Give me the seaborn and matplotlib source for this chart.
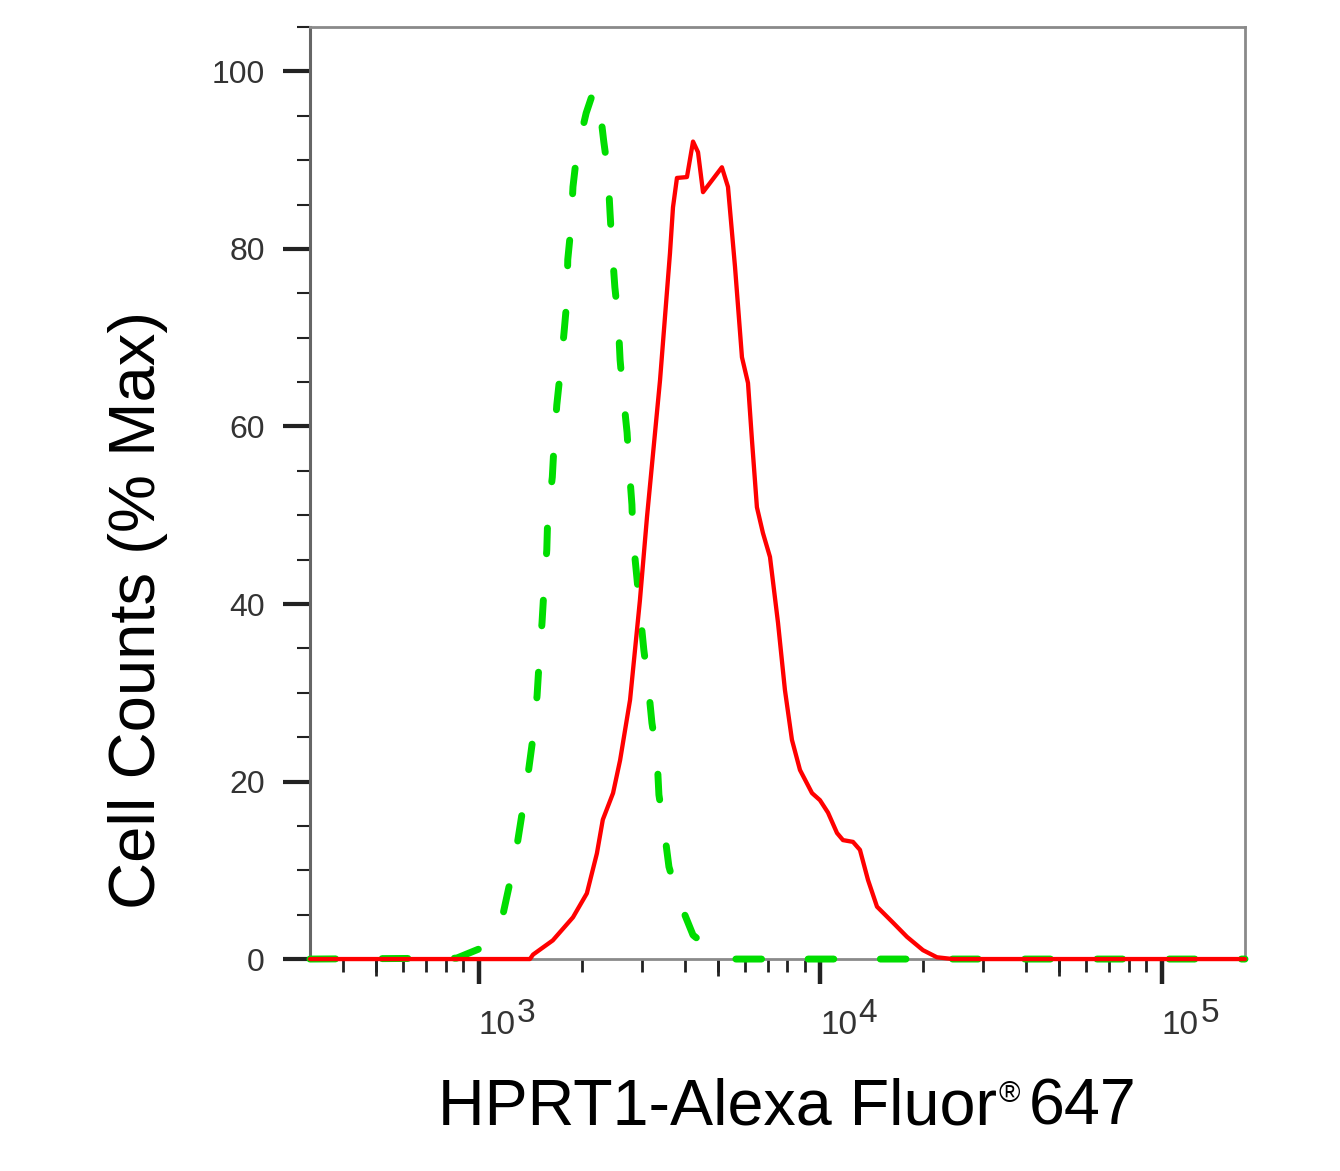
import matplotlib.pyplot as plt
import pandas as pd
import seaborn as sns
from matplotlib.ticker import MultipleLocator, LogLocator, NullFormatter, NullLocator

sns.set_style("ticks")
plt.rcParams["font.family"] = ["Liberation Sans", "DejaVu Sans"]

# isotype control (green dashed)
green_x = [320, 860, 1040, 1180, 1240, 1300, 1345, 1400, 1440, 1480,
           1500, 1530, 1550, 1580, 1590, 1640, 1660, 1690, 1730, 1775,
           1810, 1820, 1860, 1885, 1935, 2060, 2170, 2245, 2320, 2385,
           2420, 2450, 2500, 2555, 2590, 2640, 2715, 2750, 2805, 2825,
           2900, 2960, 3040, 3125, 3210, 3320, 3365, 3480, 3600, 3825,
           4235, 4975, 5300, 175000]
green_y = [0, 0.1, 1.4, 5.3, 9.1, 13.4, 17.0, 21.5, 25.0, 29.7,
           33.4, 37.9, 41.6, 46.1, 49.8, 54.3, 58.1, 62.4, 66.1, 70.6,
           74.3, 78.8, 82.5, 87.0, 90.8, 95.3, 97.9, 96.8, 92.1, 88.7,
           84.1, 80.5, 75.7, 72.2, 67.5, 63.9, 59.3, 55.7, 51.2, 47.5,
           43.0, 39.3, 34.8, 31.2, 26.6, 23.0, 18.5, 14.8, 10.4, 6.9,
           2.7, 0.5, 0, 0]

# HPRT1 stained sample (red)
red_x = [320, 1410, 1440, 1645, 1885, 2070, 2215, 2305, 2470, 2590,
         2770, 2960, 3105, 3390, 3625, 3700, 3800, 4065, 4235, 4380,
         4530, 5145, 5360, 5620, 5890, 6135, 6300, 6515, 6785, 7115,
         7510, 7870, 8250, 8710, 9445, 9965, 10520, 11180, 11640, 12450,
         13050, 13780, 14640, 16310, 17920, 19960, 21930, 24430, 175000]
red_y = [0, 0, 0.5, 2.1, 4.7, 7.4, 11.9, 15.7, 18.7, 22.4,
         29.2, 40.4, 49.8, 65.2, 79.5, 84.7, 88.0, 88.1, 92.1, 90.9,
         86.4, 89.2, 87.0, 78.0, 67.8, 64.9, 58.5, 50.9, 48.0, 45.3,
         37.9, 30.3, 24.7, 21.3, 18.7, 17.9, 16.5, 14.2, 13.4, 13.2,
         12.3, 8.9, 5.9, 4.1, 2.5, 1.0, 0.2, 0, 0]

x_ticks = [1e3, 1e4, 1e5]
x_tick_base = ["10", "10", "10"]
x_tick_exp = ["3", "4", "5"]
x_mid_ticks = [500, 5000, 50000]
y_ticks = [0, 20, 40, 60, 80, 100]

ctrl = pd.DataFrame({"x": green_x, "y": green_y})
sample = pd.DataFrame({"x": red_x, "y": red_y})

fig = plt.figure(figsize=(13.4, 11.71), dpi=100)
ax = fig.add_axes([0.2313, 0.1810, 0.6978, 0.7959])

sns.lineplot(data=ctrl, x="x", y="y", color="#00dd00", linewidth=5,
             linestyle=(0, (3.7, 6.7)), dash_capstyle="round",
             estimator=None, clip_on=False, zorder=3, ax=ax)
sns.lineplot(data=sample, x="x", y="y", color="#ff0000", linewidth=3.1,
             estimator=None, clip_on=False, zorder=4, ax=ax)

ax.set_xscale("log")
ax.set_xlim(320, 175000)
ax.set_ylim(0, 105)

ax.set_xticks(x_ticks, labels=x_tick_base, ha="left")
ax.xaxis.set_minor_locator(LogLocator(base=10, subs=range(2, 10)))
ax.xaxis.set_minor_formatter(NullFormatter())
ax.set_yticks(y_ticks)
ax.yaxis.set_minor_locator(MultipleLocator(5))

ax.tick_params(axis="x", which="major", length=18, width=3.2, pad=19,
               color="#222222", labelsize=24, labelcolor="#333333")
ax.tick_params(axis="x", which="minor", length=9, width=2, color="#222222")
ax.tick_params(axis="y", which="major", length=19.5, width=3, pad=13,
               color="#222222", labelsize=23, labelcolor="#333333")
ax.tick_params(axis="y", which="minor", length=9.5, width=1.5, color="#222222")

for t, e in zip(x_ticks, x_tick_exp):
    ax.annotate(e, xy=(t, 0), xycoords=("data", "axes fraction"),
                xytext=(27.5, -45.4), textcoords="offset points",
                ha="left", va="baseline", fontsize=24, color="#333333")

# slightly longer ticks at 5 x 10^n
sec = ax.secondary_xaxis("bottom")
sec.set_xticks(x_mid_ticks, labels=["", "", ""])
sec.xaxis.set_minor_locator(NullLocator())
sec.tick_params(axis="x", length=12.5, width=2, color="#222222")
sec.spines["bottom"].set_visible(False)

for side in ["top", "right", "bottom"]:
    ax.spines[side].set_color("#8a8a8a")
    ax.spines[side].set_linewidth(2)
ax.spines["left"].set_color("#666666")
ax.spines["left"].set_linewidth(2.2)

ax.set_ylabel("Cell Counts (% Max)", fontsize=47, va="center", color="black")
ax.yaxis.set_label_coords(-0.184, 0.3745)

xl = ax.set_xlabel("HPRT1-Alexa Fluor", fontsize=46.5, ha="left", va="baseline", color="black")
ax.xaxis.set_label_coords(0.137, -0.178)
reg = ax.annotate("®", xy=(1, -0.178), xycoords=(xl, "axes fraction"),
                  xytext=(1.0, 16.5), textcoords="offset points",
                  ha="left", va="baseline", fontsize=21, color="black")
ax.annotate("647", xy=(1, -0.178), xycoords=(reg, "axes fraction"),
            xytext=(6, 0), textcoords="offset points",
            ha="left", va="baseline", fontsize=46.5, color="black")

fig.savefig("out.png", dpi=100)
